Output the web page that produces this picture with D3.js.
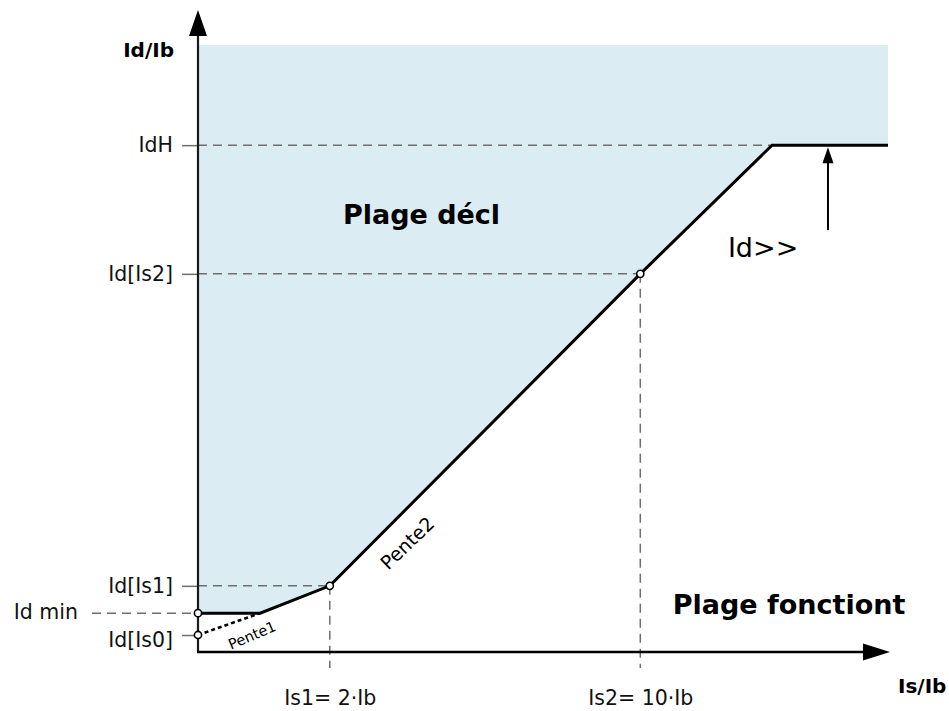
<!DOCTYPE html>
<html>
<head>
<meta charset="utf-8">
<script src="https://cdn.jsdelivr.net/npm/d3@7"></script>
<style>
  html, body { margin: 0; padding: 0; background: #fff; }
  svg { display: block; font-family: "DejaVu Sans", sans-serif; }
</style>
</head>
<body>
<svg id="chart" width="949" height="711"></svg>
<script>
// Schematic units (0–100) along both axes of the differential characteristic
const levelNames = ["IdH", "Id[Is2]", "Id[Is1]", "Id[Is0]"];
const levelValues = [83.5, 62.3, 10.9, 2.8];
const idMin = 6.4;
const idMinLabel = "Id min";

const isNames = ["Is1= 2·Ib", "Is2= 10·Ib"];
const isValues = [19.1, 64.1];

// Tripping characteristic: Id min plateau, Pente1, Pente2, IdH plateau
const curveX = [0, 9.0, 19.1, 64.1, 83.2, 100];
const curveY = [6.4, 6.4, 10.9, 62.3, 83.5, 83.5];

// Extension of Pente1 back to the vertical axis (dotted)
const pente1X = [0, 9.0];
const pente1Y = [2.8, 6.4];

// Highlighted points on the characteristic
const pointX = [0, 0, 19.1, 64.1];
const pointY = [6.4, 2.8, 10.9, 62.3];

const svg = d3.select("#chart");
const x = d3.scaleLinear().domain([0, 100]).range([198, 888]);
const y = d3.scaleLinear().domain([0, 100]).range([652, 45]);

const curve = curveX.map((v, i) => [v, curveY[i]]);
const line = d3.line().x(d => x(d[0])).y(d => y(d[1]));

// Tripping area
const area = [[0, 100], [100, 100], ...curve.slice().reverse()];
svg.append("path")
  .attr("d", line(area) + "Z")
  .attr("fill", "#dbecf2");

const grey = "#6e6e6e";
const dash = "9,6";

// Vertical guides for Is1 / Is2
isValues.forEach((v, i) => {
  const yv = curveY[curveX.indexOf(v)];
  svg.append("line")
    .attr("x1", x(v)).attr("x2", x(v))
    .attr("y1", y(yv)).attr("y2", y(0) + 16)
    .attr("stroke", grey).attr("stroke-width", 1.5)
    .attr("stroke-dasharray", dash);
});

// Horizontal guides from the axis to the curve
const guideEnds = [83.2, 64.1, 19.1, 0];
levelValues.forEach((v, i) => {
  if (guideEnds[i] <= 0) return;
  svg.append("line")
    .attr("x1", x(0)).attr("x2", x(guideEnds[i]))
    .attr("y1", y(v)).attr("y2", y(v))
    .attr("stroke", grey).attr("stroke-width", 1.5)
    .attr("stroke-dasharray", dash);
});

// Id min leader
svg.append("line")
  .attr("x1", x(0) - 106).attr("x2", x(0))
  .attr("y1", y(idMin)).attr("y2", y(idMin))
  .attr("stroke", grey).attr("stroke-width", 1.5)
  .attr("stroke-dasharray", dash);

// Y axis (ticks + labels)
const yAxis = d3.axisLeft(y)
  .tickValues(levelValues)
  .tickFormat((d, i) => levelNames[i])
  .tickSize(16)
  .tickPadding(9);
const gy = svg.append("g").attr("transform", `translate(${x(0)},0)`).call(yAxis);
gy.select(".domain").remove();
gy.selectAll(".tick line").attr("stroke", grey).attr("stroke-width", 1.5);
gy.selectAll(".tick text")
  .attr("font-size", 20.5)
  .attr("font-family", "DejaVu Sans")
  .attr("fill", "#111")
  .attr("dy", (d, i) => i === 3 ? "0.55em" : "0.32em");

svg.append("text")
  .attr("x", x(0) - 120).attr("y", y(idMin))
  .attr("dy", "0.3em")
  .attr("text-anchor", "end")
  .attr("font-size", 20.5)
  .attr("fill", "#111")
  .text(idMinLabel);

// X axis labels
const xAxis = d3.axisBottom(x)
  .tickValues(isValues)
  .tickFormat((d, i) => isNames[i])
  .tickSize(0)
  .tickPadding(38);
const gx = svg.append("g").attr("transform", `translate(0,${y(0)})`).call(xAxis);
gx.select(".domain").remove();
gx.selectAll(".tick text")
  .attr("font-size", 20.5)
  .attr("font-family", "DejaVu Sans")
  .attr("fill", "#111");

// Axis lines with arrowheads
svg.append("line")
  .attr("x1", x(0)).attr("x2", x(0))
  .attr("y1", y(0)).attr("y2", 30)
  .attr("stroke", "#1a1a1a").attr("stroke-width", 2.2);
svg.append("path")
  .attr("d", `M${x(0)},10 L${x(0) - 9},36 L${x(0) + 9},36 Z`)
  .attr("fill", "#000");

svg.append("line")
  .attr("x1", x(0) - 1).attr("x2", 868)
  .attr("y1", y(0)).attr("y2", y(0))
  .attr("stroke", "#000").attr("stroke-width", 2.6);
svg.append("path")
  .attr("d", `M890,${y(0)} L863,${y(0) - 8.5} L863,${y(0) + 8.5} Z`)
  .attr("fill", "#000");

// Pente1 extension (dotted)
svg.append("path")
  .attr("d", line(pente1X.map((v, i) => [v, pente1Y[i]])))
  .attr("fill", "none")
  .attr("stroke", "#000").attr("stroke-width", 2.6)
  .attr("stroke-dasharray", "4,3");

// Characteristic
svg.append("path")
  .attr("d", line(curve))
  .attr("fill", "none")
  .attr("stroke", "#000")
  .attr("stroke-width", 3)
  .attr("stroke-linejoin", "miter");

// Points
svg.selectAll("circle.pt")
  .data(pointX.map((v, i) => [v, pointY[i]]))
  .join("circle")
  .attr("class", "pt")
  .attr("cx", d => x(d[0])).attr("cy", d => y(d[1]))
  .attr("r", 3.6)
  .attr("fill", "#fff")
  .attr("stroke", "#000").attr("stroke-width", 1.6);

// Id>> setting arrow
const arrowX = 91.3, arrowFrom = 69.5, arrowTo = 83.5;
svg.append("line")
  .attr("x1", x(arrowX)).attr("x2", x(arrowX))
  .attr("y1", y(arrowFrom)).attr("y2", y(arrowTo) + 14)
  .attr("stroke", "#000").attr("stroke-width", 2);
svg.append("path")
  .attr("d", `M${x(arrowX)},${y(arrowTo) + 2} L${x(arrowX) - 5.5},${y(arrowTo) + 18} L${x(arrowX) + 5.5},${y(arrowTo) + 18} Z`)
  .attr("fill", "#000");

// Text annotations
svg.append("text")
  .attr("x", 174).attr("y", 57)
  .attr("text-anchor", "end")
  .attr("font-size", 20).attr("font-weight", "bold")
  .attr("fill", "#000")
  .text("Id/Ib");

svg.append("text")
  .attr("x", 898).attr("y", 693)
  .attr("font-size", 20).attr("font-weight", "bold")
  .attr("fill", "#000")
  .text("Is/Ib");

svg.append("text")
  .attr("x", x(21)).attr("y", y(70.5))
  .attr("font-size", 27).attr("font-weight", "bold")
  .attr("fill", "#000")
  .text("Plage décl");

svg.append("text")
  .attr("x", x(68.8)).attr("y", y(6.3))
  .attr("font-size", 27).attr("font-weight", "bold")
  .attr("fill", "#000")
  .text("Plage fonctiont");

svg.append("text")
  .attr("x", x(76.8)).attr("y", y(65.1))
  .attr("font-size", 27)
  .attr("fill", "#000")
  .text("Id>>");

svg.append("text")
  .attr("transform", `translate(412,548) rotate(-44)`)
  .attr("text-anchor", "middle")
  .attr("font-size", 19)
  .attr("fill", "#000")
  .text("Pente2");

svg.append("text")
  .attr("transform", `translate(254,640) rotate(-23)`)
  .attr("text-anchor", "middle")
  .attr("font-size", 14.5)
  .attr("fill", "#000")
  .text("Pente1");
</script>
</body>
</html>
